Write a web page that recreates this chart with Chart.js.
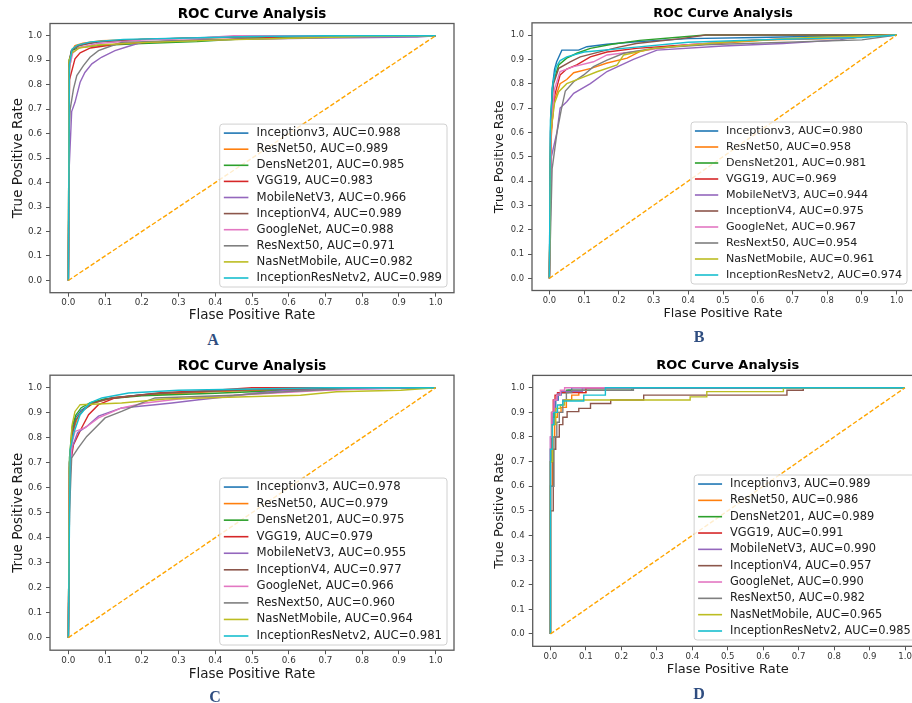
<!DOCTYPE html>
<html>
<head>
<meta charset="utf-8">
<script src="https://cdn.jsdelivr.net/npm/chart.js@4.4.0/dist/chart.umd.min.js"></script>
<style>
  html, body { margin: 0; padding: 0; background: #fff; width: 912px; height: 703px; overflow: hidden; position: relative; }
  canvas { position: absolute; }
  .tag { position: absolute; font-family: "Liberation Serif", serif; font-weight: bold; font-size: 16px; color: #2f4d80; transform: translate(-50%, -50%); }
</style>
</head>
<body>
<canvas id="rocA" width="460" height="330" style="left:0;top:0"></canvas>
<canvas id="rocB" width="470" height="330" style="left:450px;top:0"></canvas>
<canvas id="rocC" width="460" height="340" style="left:0;top:350px"></canvas>
<canvas id="rocD" width="480" height="340" style="left:450px;top:350px"></canvas>
<div class="tag" style="left:213px;top:340px">A</div>
<div class="tag" style="left:699px;top:337px">B</div>
<div class="tag" style="left:215px;top:697px">C</div>
<div class="tag" style="left:699px;top:694px">D</div>
<script>
const modelNames = ['Inceptionv3', 'ResNet50', 'DensNet201', 'VGG19', 'MobileNetV3', 'InceptionV4', 'GoogleNet', 'ResNext50', 'NasNetMobile', 'InceptionResNetv2'];
const lineColors = ['#1f77b4', '#ff7f0e', '#2ca02c', '#d62728', '#9467bd', '#8c564b', '#e377c2', '#7f7f7f', '#bcbd22', '#17becf'];
const tickValues = [0, 0.1, 0.2, 0.3, 0.4, 0.5, 0.6, 0.7, 0.8, 0.9, 1.0];
const chanceLine = [[0, 0], [1, 1]];

const aucA = [0.988, 0.989, 0.985, 0.983, 0.966, 0.989, 0.988, 0.971, 0.982, 0.989];
const aucB = [0.980, 0.958, 0.981, 0.969, 0.944, 0.975, 0.967, 0.954, 0.961, 0.974];
const aucC = [0.978, 0.979, 0.975, 0.979, 0.955, 0.977, 0.966, 0.960, 0.964, 0.981];
const aucD = [0.989, 0.986, 0.989, 0.991, 0.990, 0.957, 0.990, 0.982, 0.965, 0.985];

// [fpr, tpr] points per model, same order as modelNames
const rocA = [
  [[0,0],[0.002,0.88],[0.008,0.935],[0.02,0.957],[0.05,0.968],[0.1,0.977],[0.2,0.985],[0.35,0.992],[0.55,0.997],[0.75,1],[1,1]],
  [[0,0],[0.003,0.86],[0.01,0.94],[0.018,0.96],[0.04,0.97],[0.09,0.98],[0.22,0.986],[0.5,0.996],[0.72,1],[1,1]],
  [[0,0],[0.002,0.9],[0.01,0.94],[0.03,0.952],[0.08,0.96],[0.2,0.968],[0.35,0.976],[0.5,0.99],[0.8,1],[1,1]],
  [[0,0],[0.003,0.82],[0.018,0.906],[0.032,0.93],[0.06,0.95],[0.14,0.967],[0.3,0.98],[0.5,0.988],[0.62,1],[1,1]],
  [[0,0],[0.002,0.45],[0.009,0.69],[0.018,0.728],[0.032,0.81],[0.045,0.85],[0.064,0.885],[0.09,0.912],[0.127,0.939],[0.16,0.955],[0.2,0.973],[0.29,0.98],[0.45,0.985],[0.65,0.99],[0.95,0.995],[1,1]],
  [[0,0],[0.002,0.89],[0.008,0.94],[0.03,0.96],[0.08,0.975],[0.2,0.985],[0.4,0.993],[0.6,1],[1,1]],
  [[0,0],[0.003,0.87],[0.012,0.93],[0.03,0.952],[0.08,0.968],[0.2,0.982],[0.35,0.99],[0.45,1],[1,1]],
  [[0,0],[0.002,0.6],[0.005,0.7],[0.014,0.783],[0.023,0.837],[0.041,0.878],[0.059,0.912],[0.082,0.939],[0.118,0.959],[0.145,0.973],[0.3,0.98],[0.6,0.99],[0.85,1],[1,1]],
  [[0,0],[0.002,0.9],[0.01,0.93],[0.03,0.95],[0.08,0.962],[0.2,0.972],[0.4,0.982],[0.6,0.99],[0.8,0.997],[1,1]],
  [[0,0],[0.003,0.88],[0.01,0.945],[0.025,0.962],[0.06,0.975],[0.15,0.985],[0.3,0.99],[0.5,0.997],[0.7,1],[1,1]]
];

const rocB = [
  [[0,0],[0.003,0.6],[0.008,0.78],[0.015,0.86],[0.021,0.89],[0.036,0.938],[0.084,0.938],[0.108,0.952],[0.166,0.962],[0.25,0.972],[0.4,0.985],[0.6,0.99],[0.85,0.997],[1,1]],
  [[0,0],[0.004,0.55],[0.012,0.72],[0.031,0.8],[0.05,0.817],[0.07,0.845],[0.12,0.863],[0.166,0.885],[0.224,0.905],[0.26,0.932],[0.33,0.952],[0.48,0.965],[0.636,0.98],[0.875,0.986],[0.9,0.996],[1,1]],
  [[0,0],[0.004,0.65],[0.01,0.8],[0.027,0.877],[0.05,0.905],[0.079,0.925],[0.118,0.945],[0.18,0.962],[0.26,0.978],[0.38,0.992],[0.45,1],[1,1]],
  [[0,0],[0.005,0.6],[0.015,0.75],[0.031,0.836],[0.05,0.86],[0.079,0.877],[0.118,0.91],[0.166,0.93],[0.25,0.945],[0.4,0.96],[0.6,0.98],[0.85,0.99],[1,1]],
  [[0,0],[0.006,0.5],[0.022,0.602],[0.031,0.7],[0.05,0.726],[0.07,0.76],[0.118,0.8],[0.166,0.85],[0.242,0.9],[0.31,0.938],[0.5,0.955],[0.673,0.965],[0.837,0.98],[0.88,0.993],[1,1]],
  [[0,0],[0.004,0.65],[0.012,0.8],[0.027,0.863],[0.06,0.89],[0.089,0.91],[0.156,0.935],[0.2,0.95],[0.25,0.965],[0.38,0.985],[0.45,1],[1,1]],
  [[0,0],[0.005,0.6],[0.015,0.78],[0.031,0.85],[0.07,0.87],[0.127,0.89],[0.166,0.918],[0.28,0.938],[0.4,0.96],[0.6,0.98],[0.85,0.99],[1,1]],
  [[0,0],[0.008,0.45],[0.022,0.6],[0.035,0.698],[0.046,0.77],[0.07,0.808],[0.099,0.836],[0.127,0.87],[0.166,0.897],[0.214,0.925],[0.3,0.945],[0.45,0.96],[0.9,0.98],[1,1]],
  [[0,0],[0.004,0.6],[0.015,0.72],[0.027,0.767],[0.05,0.8],[0.089,0.822],[0.137,0.849],[0.195,0.877],[0.214,0.918],[0.3,0.945],[0.5,0.97],[0.75,0.99],[1,1]],
  [[0,0],[0.003,0.65],[0.01,0.8],[0.02,0.87],[0.031,0.895],[0.05,0.91],[0.1,0.93],[0.25,0.95],[0.4,0.97],[0.6,0.98],[0.9,0.99],[1,1]]
];

const rocC = [
  [[0,0],[0.003,0.7],[0.01,0.82],[0.02,0.88],[0.035,0.91],[0.06,0.935],[0.1,0.955],[0.2,0.972],[0.4,0.988],[0.7,0.997],[0.85,1],[1,1]],
  [[0,0],[0.003,0.68],[0.012,0.82],[0.025,0.88],[0.04,0.91],[0.07,0.94],[0.12,0.96],[0.2,0.97],[0.4,0.985],[0.7,0.997],[0.8,1],[1,1]],
  [[0,0],[0.003,0.72],[0.01,0.84],[0.02,0.89],[0.035,0.92],[0.06,0.94],[0.1,0.955],[0.2,0.968],[0.4,0.978],[0.6,0.99],[0.85,1],[1,1]],
  [[0,0],[0.004,0.68],[0.014,0.772],[0.036,0.839],[0.055,0.892],[0.082,0.932],[0.127,0.959],[0.25,0.98],[0.4,0.99],[0.5,1],[1,1]],
  [[0,0],[0.003,0.6],[0.01,0.76],[0.025,0.82],[0.05,0.845],[0.082,0.886],[0.145,0.919],[0.236,0.932],[0.282,0.939],[0.355,0.952],[0.432,0.964],[0.504,0.978],[0.6,0.99],[0.97,1],[1,1]],
  [[0,0],[0.003,0.7],[0.01,0.81],[0.02,0.87],[0.04,0.91],[0.07,0.94],[0.12,0.96],[0.25,0.978],[0.45,0.99],[0.75,1],[1,1]],
  [[0,0],[0.003,0.65],[0.01,0.78],[0.018,0.825],[0.045,0.839],[0.082,0.879],[0.145,0.919],[0.209,0.939],[0.3,0.955],[0.45,0.97],[0.7,0.99],[0.9,1],[1,1]],
  [[0,0],[0.003,0.5],[0.009,0.719],[0.027,0.759],[0.05,0.805],[0.073,0.839],[0.1,0.879],[0.145,0.905],[0.2,0.939],[0.236,0.959],[0.45,0.97],[0.6,0.985],[0.8,1],[1,1]],
  [[0,0],[0.003,0.7],[0.01,0.85],[0.018,0.905],[0.032,0.932],[0.145,0.939],[0.264,0.955],[0.632,0.97],[0.73,0.984],[0.905,0.99],[1,1]],
  [[0,0],[0.005,0.752],[0.015,0.82],[0.032,0.892],[0.059,0.939],[0.091,0.959],[0.164,0.979],[0.3,0.99],[0.7,1],[1,1]]
];

const rocD = [
  [[0,0],[0.005,0.7],[0.01,0.85],[0.015,0.9],[0.022,0.95],[0.03,0.97],[0.05,0.98],[0.06,0.99],[1,1]],
  [[0,0],[0.006,0.6],[0.012,0.8],[0.02,0.88],[0.03,0.9],[0.045,0.92],[0.06,0.95],[0.08,0.97],[0.1,0.98],[1,1]],
  [[0,0],[0.005,0.7],[0.01,0.88],[0.018,0.95],[0.025,0.97],[0.045,0.98],[0.23,0.99],[1,1]],
  [[0,0],[0.003,0.75],[0.008,0.9],[0.013,0.95],[0.02,0.97],[0.1,0.98],[1,1]],
  [[0,0],[0.005,0.8],[0.012,0.9],[0.02,0.95],[0.03,0.975],[0.09,0.985],[1,1]],
  [[0,0],[0.008,0.5],[0.015,0.75],[0.025,0.8],[0.035,0.85],[0.047,0.88],[0.08,0.903],[0.113,0.916],[0.17,0.936],[0.263,0.95],[0.667,0.97],[0.713,0.99],[1,1]],
  [[0,0],[0.004,0.8],[0.01,0.9],[0.018,0.95],[0.028,0.97],[0.04,0.99],[1,1]],
  [[0,0],[0.01,0.6],[0.018,0.8],[0.025,0.86],[0.035,0.9],[0.045,0.95],[0.06,0.98],[0.234,0.99],[1,1]],
  [[0,0],[0.006,0.7],[0.015,0.85],[0.028,0.916],[0.04,0.93],[0.394,0.95],[0.441,0.963],[0.657,0.984],[1,1]],
  [[0,0],[0.005,0.75],[0.01,0.85],[0.02,0.9],[0.035,0.93],[0.094,0.946],[0.155,0.97],[1,1]]
];

const FONT = '"DejaVu Sans", sans-serif';

// matplotlib-like box round the axes plus a legend in the lower right
const frameAndLegend = {
  id: 'frameAndLegend',
  afterDatasetsDraw(chart, args, opts) {
    const { ctx, chartArea: a } = chart;
    ctx.save();
    ctx.strokeStyle = '#5a5a5a';
    ctx.lineWidth = 1.3;
    ctx.strokeRect(a.left, a.top, a.right - a.left, a.bottom - a.top);

    const items = chart.data.datasets.filter(d => d.label);
    const fs = opts.fontSize;
    ctx.font = fs + 'px ' + FONT;
    const textW = Math.max(...items.map(d => ctx.measureText(d.label).width));
    const w = fs * 3.15 + textW + 5;
    const h = opts.rowGap * (items.length - 1) + 18;
    const x0 = a.right - opts.marginRight - w;
    const y0 = a.bottom - opts.marginBottom - h;
    ctx.beginPath();
    ctx.roundRect(x0, y0, w, h, 3);
    ctx.fillStyle = 'rgba(255,255,255,0.8)';
    ctx.fill();
    ctx.strokeStyle = '#d0d0d0';
    ctx.lineWidth = 1;
    ctx.stroke();
    ctx.textBaseline = 'middle';
    items.forEach((d, i) => {
      const y = y0 + 9 + i * opts.rowGap;
      ctx.strokeStyle = d.borderColor;
      ctx.lineWidth = 1.6;
      ctx.beginPath();
      ctx.moveTo(x0 + fs * 0.35, y);
      ctx.lineTo(x0 + fs * 2.45, y);
      ctx.stroke();
      ctx.fillStyle = '#222';
      ctx.fillText(d.label, x0 + fs * 3.15, y);
    });
    ctx.restore();
  }
};

function drawPanel(id, roc, auc, stepped, g) {
  const datasets = roc.map((pts, i) => ({
    label: modelNames[i] + ', AUC=' + auc[i].toFixed(3),
    data: pts,
    borderColor: lineColors[i],
    borderWidth: 1.4,
    pointRadius: 0,
    stepped: stepped,
    order: roc.length - i
  }));
  datasets.push({
    data: chanceLine,
    borderColor: '#ffa500',
    borderWidth: 1.4,
    borderDash: [4.5, 2.2],
    pointRadius: 0,
    order: 0
  });

  const tickFont = { family: FONT, size: g.tickSize };
  const titleFont = { family: FONT, size: g.labelSize };

  new Chart(document.getElementById(id), {
    type: 'line',
    data: { datasets },
    options: {
      responsive: false,
      animation: false,
      events: [],
      layout: { padding: { left: 0, top: 0, bottom: 0, right: g.padRight } },
      plugins: {
        legend: { display: false },
        tooltip: { enabled: false },
        title: {
          display: true,
          fullSize: false,
          text: 'ROC Curve Analysis',
          color: '#000',
          font: { family: FONT, size: g.titleSize, weight: 'bold' },
          padding: { top: g.titleTop, bottom: g.titleBottom }
        },
        frameAndLegend: g.legend
      },
      scales: {
        x: {
          type: 'linear',
          min: -0.05,
          max: 1.05,
          afterBuildTicks: s => { s.ticks = tickValues.map(v => ({ value: v })); },
          afterFit: s => { s.height = g.xHeight; },
          ticks: { callback: v => v.toFixed(1), autoSkip: false, maxRotation: 0, font: tickFont, color: '#333', padding: 1 },
          grid: { drawOnChartArea: false, drawTicks: true, tickLength: 4, color: '#555' },
          border: { display: false },
          title: { display: true, text: 'Flase Positive Rate', color: '#1a1a1a', font: titleFont, padding: g.xTitlePad }
        },
        y: {
          type: 'linear',
          min: -0.05,
          max: 1.05,
          afterBuildTicks: s => { s.ticks = tickValues.map(v => ({ value: v })); },
          afterFit: s => { s.width = g.yWidth; },
          ticks: { callback: v => v.toFixed(1), autoSkip: false, font: tickFont, color: '#333', padding: 4 },
          grid: { drawOnChartArea: false, drawTicks: true, tickLength: 4, color: '#555' },
          border: { display: false },
          title: { display: true, text: 'True Positive Rate', color: '#1a1a1a', font: titleFont, padding: g.yTitlePad }
        }
      }
    },
    plugins: [frameAndLegend]
  });
}

drawPanel('rocA', rocA, aucA, false, {
  padRight: 6, titleSize: 13.5, titleTop: 5.9, titleBottom: 1.4,
  yWidth: 50, yTitlePad: 9.9, xHeight: 37.3, xTitlePad: 6.9,
  tickSize: 8.8, labelSize: 13.5,
  legend: { fontSize: 11.7, rowGap: 16.1, marginRight: 7, marginBottom: 5.7 }
});
drawPanel('rocB', rocB, aucB, false, {
  padRight: 6, titleSize: 12.7, titleTop: 6.4, titleBottom: 1.2,
  yWidth: 82, yTitlePad: 42.4, xHeight: 39.5, xTitlePad: 9.1,
  tickSize: 8.4, labelSize: 12.7,
  legend: { fontSize: 11.1, rowGap: 16, marginRight: 7, marginBottom: 6.5 }
});
drawPanel('rocC', rocC, aucC, false, {
  padRight: 6, titleSize: 13.5, titleTop: 7.9, titleBottom: 1.1,
  yWidth: 50, yTitlePad: 9.9, xHeight: 39.8, xTitlePad: 7.9,
  tickSize: 8.8, labelSize: 13.5,
  legend: { fontSize: 11.7, rowGap: 16.55, marginRight: 7, marginBottom: 5.2 }
});
drawPanel('rocD', rocD, aucD, 'after', {
  padRight: 7.25, titleSize: 13, titleTop: 8.2, titleBottom: 1.6,
  yWidth: 82.7, yTitlePad: 42.2, xHeight: 43.7, xTitlePad: 12.9,
  tickSize: 8.6, labelSize: 13,
  legend: { fontSize: 11.4, rowGap: 16.33, marginRight: 7, marginBottom: 6.3 }
});
</script>
</body>
</html>
